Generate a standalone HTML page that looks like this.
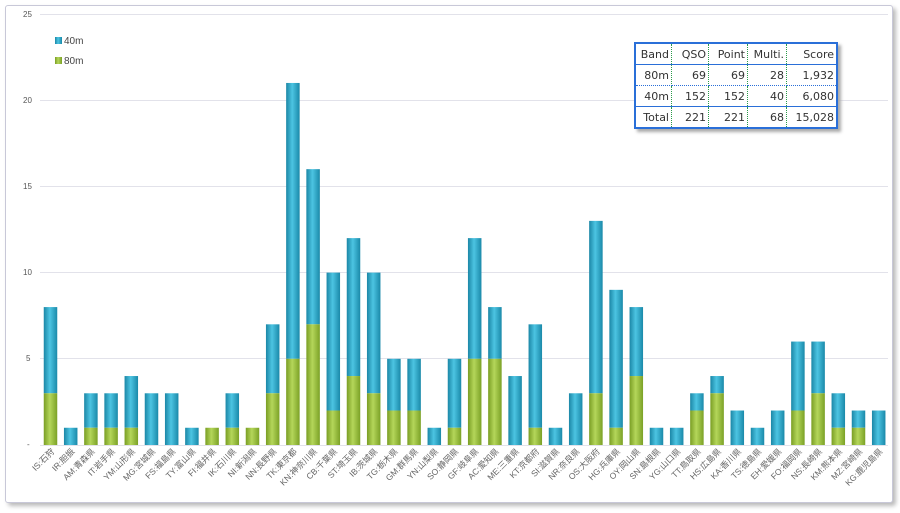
<!DOCTYPE html>
<html><head><meta charset="utf-8"><style>
body{margin:0;width:900px;height:513px;background:#fff;overflow:hidden;font-family:"Liberation Sans","Noto Sans CJK JP",sans-serif}
.frame{position:absolute;left:5px;top:5px;width:886px;height:496px;border:1px solid #c8c8d8;border-radius:3px;box-shadow:3px 3px 4px #bbb;background:#fff}
table{position:absolute;left:634px;top:42px;border-collapse:collapse;font-family:"DejaVu Sans",sans-serif;font-size:11px;color:#333;border:2px solid #2a6fd8;box-shadow:3px 3px 3px #aaa;background:#fff}
td{padding:0 2px;height:20px;text-align:right;border-right:1px dotted #2a9a4a}
td:last-child{border-right:none}
tr.r1 td{border-bottom:1px dotted #2a6fd8}
tr.r2 td{border-bottom:1px solid #2a6fd8}
tr.r0 td{border-bottom:1px solid #2a6fd8}
</style></head><body>
<div class="frame"></div>
<svg width="900" height="513" style="position:absolute;left:0;top:0">
<defs>
<linearGradient id="b" x1="0" x2="1"><stop offset="0" stop-color="#1b87a6"/><stop offset="0.45" stop-color="#4cc4e2"/><stop offset="1" stop-color="#1a89a9"/></linearGradient>
<linearGradient id="g" x1="0" x2="1"><stop offset="0" stop-color="#7a9e24"/><stop offset="0.45" stop-color="#b4d65a"/><stop offset="1" stop-color="#7ba126"/></linearGradient>
</defs>
<g stroke="#e2e2ea" stroke-width="1">
<line x1="40" x2="888" y1="14.5" y2="14.5"/><line x1="40" x2="888" y1="100.5" y2="100.5"/><line x1="40" x2="888" y1="186.5" y2="186.5"/><line x1="40" x2="888" y1="272.5" y2="272.5"/><line x1="40" x2="888" y1="358.5" y2="358.5"/><line x1="40" x2="888" y1="445.5" y2="445.5"/>
</g>
<g font-size="8" fill="#555" font-family="Liberation Sans,sans-serif">
<text x="23" y="17">25</text><text x="23" y="103">20</text><text x="23" y="189">15</text><text x="23" y="275">10</text><text x="26" y="361">5</text><text x="27" y="447">-</text>
</g>
<rect x="55" y="37" width="7" height="7" fill="url(#b)"/><text x="64" y="44" font-size="10" fill="#444">40m</text>
<rect x="55" y="57" width="7" height="7" fill="url(#g)"/><text x="64" y="64" font-size="10" fill="#444">80m</text>
<g>
<rect x="43.75" y="307.08" width="13.5" height="86.2" fill="url(#b)"/><rect x="43.75" y="393.28" width="13.5" height="51.72" fill="url(#g)"/>
<rect x="63.95" y="427.76" width="13.5" height="17.24" fill="url(#b)"/>
<rect x="84.15" y="393.28" width="13.5" height="34.48" fill="url(#b)"/><rect x="84.15" y="427.76" width="13.5" height="17.24" fill="url(#g)"/>
<rect x="104.35" y="393.28" width="13.5" height="34.48" fill="url(#b)"/><rect x="104.35" y="427.76" width="13.5" height="17.24" fill="url(#g)"/>
<rect x="124.55" y="376.04" width="13.5" height="51.72" fill="url(#b)"/><rect x="124.55" y="427.76" width="13.5" height="17.24" fill="url(#g)"/>
<rect x="144.75" y="393.28" width="13.5" height="51.72" fill="url(#b)"/>
<rect x="164.95" y="393.28" width="13.5" height="51.72" fill="url(#b)"/>
<rect x="185.15" y="427.76" width="13.5" height="17.24" fill="url(#b)"/>
<rect x="205.35" y="427.76" width="13.5" height="17.24" fill="url(#g)"/>
<rect x="225.55" y="393.28" width="13.5" height="34.48" fill="url(#b)"/><rect x="225.55" y="427.76" width="13.5" height="17.24" fill="url(#g)"/>
<rect x="245.75" y="427.76" width="13.5" height="17.24" fill="url(#g)"/>
<rect x="265.95" y="324.32" width="13.5" height="68.96" fill="url(#b)"/><rect x="265.95" y="393.28" width="13.5" height="51.72" fill="url(#g)"/>
<rect x="286.15" y="82.96" width="13.5" height="275.84" fill="url(#b)"/><rect x="286.15" y="358.8" width="13.5" height="86.2" fill="url(#g)"/>
<rect x="306.35" y="169.16" width="13.5" height="155.16" fill="url(#b)"/><rect x="306.35" y="324.32" width="13.5" height="120.68" fill="url(#g)"/>
<rect x="326.55" y="272.6" width="13.5" height="137.92" fill="url(#b)"/><rect x="326.55" y="410.52" width="13.5" height="34.48" fill="url(#g)"/>
<rect x="346.75" y="238.12" width="13.5" height="137.92" fill="url(#b)"/><rect x="346.75" y="376.04" width="13.5" height="68.96" fill="url(#g)"/>
<rect x="366.95" y="272.6" width="13.5" height="120.68" fill="url(#b)"/><rect x="366.95" y="393.28" width="13.5" height="51.72" fill="url(#g)"/>
<rect x="387.15" y="358.8" width="13.5" height="51.72" fill="url(#b)"/><rect x="387.15" y="410.52" width="13.5" height="34.48" fill="url(#g)"/>
<rect x="407.35" y="358.8" width="13.5" height="51.72" fill="url(#b)"/><rect x="407.35" y="410.52" width="13.5" height="34.48" fill="url(#g)"/>
<rect x="427.55" y="427.76" width="13.5" height="17.24" fill="url(#b)"/>
<rect x="447.75" y="358.8" width="13.5" height="68.96" fill="url(#b)"/><rect x="447.75" y="427.76" width="13.5" height="17.24" fill="url(#g)"/>
<rect x="467.95" y="238.12" width="13.5" height="120.68" fill="url(#b)"/><rect x="467.95" y="358.8" width="13.5" height="86.2" fill="url(#g)"/>
<rect x="488.15" y="307.08" width="13.5" height="51.72" fill="url(#b)"/><rect x="488.15" y="358.8" width="13.5" height="86.2" fill="url(#g)"/>
<rect x="508.35" y="376.04" width="13.5" height="68.96" fill="url(#b)"/>
<rect x="528.55" y="324.32" width="13.5" height="103.44" fill="url(#b)"/><rect x="528.55" y="427.76" width="13.5" height="17.24" fill="url(#g)"/>
<rect x="548.75" y="427.76" width="13.5" height="17.24" fill="url(#b)"/>
<rect x="568.95" y="393.28" width="13.5" height="51.72" fill="url(#b)"/>
<rect x="589.15" y="220.88" width="13.5" height="172.4" fill="url(#b)"/><rect x="589.15" y="393.28" width="13.5" height="51.72" fill="url(#g)"/>
<rect x="609.35" y="289.84" width="13.5" height="137.92" fill="url(#b)"/><rect x="609.35" y="427.76" width="13.5" height="17.24" fill="url(#g)"/>
<rect x="629.55" y="307.08" width="13.5" height="68.96" fill="url(#b)"/><rect x="629.55" y="376.04" width="13.5" height="68.96" fill="url(#g)"/>
<rect x="649.75" y="427.76" width="13.5" height="17.24" fill="url(#b)"/>
<rect x="669.95" y="427.76" width="13.5" height="17.24" fill="url(#b)"/>
<rect x="690.15" y="393.28" width="13.5" height="17.24" fill="url(#b)"/><rect x="690.15" y="410.52" width="13.5" height="34.48" fill="url(#g)"/>
<rect x="710.35" y="376.04" width="13.5" height="17.24" fill="url(#b)"/><rect x="710.35" y="393.28" width="13.5" height="51.72" fill="url(#g)"/>
<rect x="730.55" y="410.52" width="13.5" height="34.48" fill="url(#b)"/>
<rect x="750.75" y="427.76" width="13.5" height="17.24" fill="url(#b)"/>
<rect x="770.95" y="410.52" width="13.5" height="34.48" fill="url(#b)"/>
<rect x="791.15" y="341.56" width="13.5" height="68.96" fill="url(#b)"/><rect x="791.15" y="410.52" width="13.5" height="34.48" fill="url(#g)"/>
<rect x="811.35" y="341.56" width="13.5" height="51.72" fill="url(#b)"/><rect x="811.35" y="393.28" width="13.5" height="51.72" fill="url(#g)"/>
<rect x="831.55" y="393.28" width="13.5" height="34.48" fill="url(#b)"/><rect x="831.55" y="427.76" width="13.5" height="17.24" fill="url(#g)"/>
<rect x="851.75" y="410.52" width="13.5" height="17.24" fill="url(#b)"/><rect x="851.75" y="427.76" width="13.5" height="17.24" fill="url(#g)"/>
<rect x="871.95" y="410.52" width="13.5" height="34.48" fill="url(#b)"/>
</g>
<g font-size="8.5" fill="#666" text-anchor="end">
<text transform="translate(55,452) rotate(-45)">IS:石狩</text>
<text transform="translate(75.2,452) rotate(-45)">IR:胆振</text>
<text transform="translate(95.4,452) rotate(-45)">AM:青森県</text>
<text transform="translate(115.6,452) rotate(-45)">IT:岩手県</text>
<text transform="translate(135.8,452) rotate(-45)">YM:山形県</text>
<text transform="translate(156,452) rotate(-45)">MG:宮城県</text>
<text transform="translate(176.2,452) rotate(-45)">FS:福島県</text>
<text transform="translate(196.4,452) rotate(-45)">TY:富山県</text>
<text transform="translate(216.6,452) rotate(-45)">FI:福井県</text>
<text transform="translate(236.8,452) rotate(-45)">IK:石川県</text>
<text transform="translate(257,452) rotate(-45)">NI:新潟県</text>
<text transform="translate(277.2,452) rotate(-45)">NN:長野県</text>
<text transform="translate(297.4,452) rotate(-45)">TK:東京都</text>
<text transform="translate(317.6,452) rotate(-45)">KN:神奈川県</text>
<text transform="translate(337.8,452) rotate(-45)">CB:千葉県</text>
<text transform="translate(358,452) rotate(-45)">ST:埼玉県</text>
<text transform="translate(378.2,452) rotate(-45)">IB:茨城県</text>
<text transform="translate(398.4,452) rotate(-45)">TG:栃木県</text>
<text transform="translate(418.6,452) rotate(-45)">GM:群馬県</text>
<text transform="translate(438.8,452) rotate(-45)">YN:山梨県</text>
<text transform="translate(459,452) rotate(-45)">SO:静岡県</text>
<text transform="translate(479.2,452) rotate(-45)">GF:岐阜県</text>
<text transform="translate(499.4,452) rotate(-45)">AC:愛知県</text>
<text transform="translate(519.6,452) rotate(-45)">ME:三重県</text>
<text transform="translate(539.8,452) rotate(-45)">KT:京都府</text>
<text transform="translate(560,452) rotate(-45)">SI:滋賀県</text>
<text transform="translate(580.2,452) rotate(-45)">NR:奈良県</text>
<text transform="translate(600.4,452) rotate(-45)">OS:大阪府</text>
<text transform="translate(620.6,452) rotate(-45)">HG:兵庫県</text>
<text transform="translate(640.8,452) rotate(-45)">OY:岡山県</text>
<text transform="translate(661,452) rotate(-45)">SN:島根県</text>
<text transform="translate(681.2,452) rotate(-45)">YG:山口県</text>
<text transform="translate(701.4,452) rotate(-45)">TT:鳥取県</text>
<text transform="translate(721.6,452) rotate(-45)">HS:広島県</text>
<text transform="translate(741.8,452) rotate(-45)">KA:香川県</text>
<text transform="translate(762,452) rotate(-45)">TS:徳島県</text>
<text transform="translate(782.2,452) rotate(-45)">EH:愛媛県</text>
<text transform="translate(802.4,452) rotate(-45)">FO:福岡県</text>
<text transform="translate(822.6,452) rotate(-45)">NS:長崎県</text>
<text transform="translate(842.8,452) rotate(-45)">KM:熊本県</text>
<text transform="translate(863,452) rotate(-45)">MZ:宮崎県</text>
<text transform="translate(883.2,452) rotate(-45)">KG:鹿児島県</text>
</g>
</svg>
<table>
<tr class="r0"><td style="width:31px">Band</td><td style="width:32px">QSO</td><td style="width:34px">Point</td><td style="width:34px">Multi.</td><td style="width:45px">Score</td></tr>
<tr class="r1"><td>80m</td><td>69</td><td>69</td><td>28</td><td>1,932</td></tr>
<tr class="r2"><td>40m</td><td>152</td><td>152</td><td>40</td><td>6,080</td></tr>
<tr><td>Total</td><td>221</td><td>221</td><td>68</td><td>15,028</td></tr>
</table>
</body></html>
